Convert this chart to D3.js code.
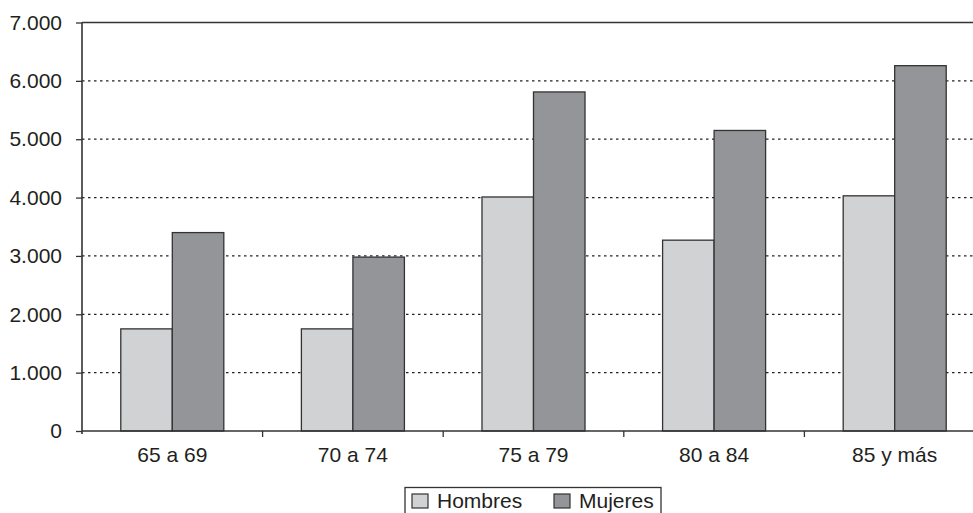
<!DOCTYPE html>
<html>
<head>
<meta charset="utf-8">
<script src="https://cdn.jsdelivr.net/npm/d3@7/dist/d3.min.js"></script>
<style>
  html, body { margin: 0; padding: 0; background: #fff; }
  svg { display: block; }
  text { font-family: "Liberation Sans", Arial, Helvetica, sans-serif; fill: #231f20; }
</style>
</head>
<body>
<svg id="chart" width="973" height="513"></svg>
<script>
// Age groups and population values (thousands of people, by sex)
const categories = ["65 a 69", "70 a 74", "75 a 79", "80 a 84", "85 y más"];
const series = ["Hombres", "Mujeres"];
const hombres = [1750, 1750, 4010, 3270, 4030];
const mujeres = [3400, 2980, 5810, 5150, 6260];
const yTicks = [0, 1000, 2000, 3000, 4000, 5000, 6000, 7000];
const yTickLabels = ["0", "1.000", "2.000", "3.000", "4.000", "5.000", "6.000", "7.000"];

const colors = { Hombres: "#d1d2d4", Mujeres: "#939598" };
const values = { Hombres: hombres, Mujeres: mujeres };

const svg = d3.select("#chart");
const W = 973;
const plotLeft = 82, plotTop = 22.5, plotBottom = 431;
const step = 180.6;
const fontSize = 21;

const x0 = d3.scaleBand()
  .domain(categories)
  .range([plotLeft, plotLeft + step * categories.length])
  .paddingInner(0).paddingOuter(0);

const x1 = d3.scaleBand()
  .domain(series)
  .range([0, x0.bandwidth()])
  .paddingInner(0).paddingOuter(0.753);

const y = d3.scaleLinear().domain([0, 7000]).range([plotBottom, plotTop]);

// dotted horizontal gridlines
svg.append("g")
  .selectAll("line")
  .data(yTicks.filter(v => v > 0 && v < 7000))
  .join("line")
  .attr("x1", plotLeft).attr("x2", W)
  .attr("y1", d => y(d)).attr("y2", d => y(d))
  .attr("stroke", "#222")
  .attr("stroke-width", 1.2)
  .attr("stroke-dasharray", "2.5,3.5");

// bars
const groups = svg.append("g")
  .selectAll("g")
  .data(categories)
  .join("g")
  .attr("transform", d => `translate(${x0(d)},0)`);

groups.selectAll("rect")
  .data((c, i) => series.map(s => ({ s, v: values[s][i] })))
  .join("rect")
  .attr("x", d => x1(d.s))
  .attr("y", d => y(d.v))
  .attr("width", x1.bandwidth())
  .attr("height", d => y(0) - y(d.v))
  .attr("fill", d => colors[d.s])
  .attr("stroke", "#333")
  .attr("stroke-width", 1.3);

// top frame line
svg.append("line")
  .attr("x1", plotLeft).attr("x2", W)
  .attr("y1", plotTop).attr("y2", plotTop)
  .attr("stroke", "#333").attr("stroke-width", 1.6);

// y axis
const yAxis = d3.axisLeft(y)
  .tickValues(yTicks)
  .tickFormat((d, i) => yTickLabels[i])
  .tickSize(6)
  .tickPadding(14);
const gy = svg.append("g")
  .attr("transform", `translate(${plotLeft},0)`)
  .call(yAxis);
gy.select(".domain").remove();
gy.selectAll(".tick line").attr("stroke", "#333").attr("stroke-width", 1.3);
gy.selectAll(".tick text")
  .attr("font-size", fontSize)
  .attr("font-family", "Liberation Sans, Arial, sans-serif")
  .attr("fill", "#231f20");
svg.append("line")
  .attr("x1", plotLeft).attr("x2", plotLeft)
  .attr("y1", plotTop).attr("y2", plotBottom + 3)
  .attr("stroke", "#333").attr("stroke-width", 1.6);

// x axis baseline with ticks between categories
svg.append("line")
  .attr("x1", plotLeft).attr("x2", W)
  .attr("y1", plotBottom).attr("y2", plotBottom)
  .attr("stroke", "#333").attr("stroke-width", 1.6);
svg.append("g")
  .selectAll("line")
  .data(categories.slice(1))
  .join("line")
  .attr("x1", d => x0(d)).attr("x2", d => x0(d))
  .attr("y1", plotBottom).attr("y2", plotBottom + 6)
  .attr("stroke", "#333").attr("stroke-width", 1.3);

svg.append("g")
  .selectAll("text")
  .data(categories)
  .join("text")
  .attr("x", d => x0(d) + x0.bandwidth() / 2)
  .attr("y", 461.5)
  .attr("text-anchor", "middle")
  .attr("font-size", fontSize)
  .text(d => d);

// legend
const legend = svg.append("g");
legend.append("rect")
  .attr("x", 405).attr("y", 487.5)
  .attr("width", 256).attr("height", 40)
  .attr("fill", "#fff")
  .attr("stroke", "#333").attr("stroke-width", 1.3);
const legendX = [412, 554];
series.forEach((s, i) => {
  legend.append("rect")
    .attr("x", legendX[i]).attr("y", 494)
    .attr("width", 16).attr("height", 14)
    .attr("fill", colors[s])
    .attr("stroke", "#333").attr("stroke-width", 1.2);
  legend.append("text")
    .attr("x", legendX[i] + 25).attr("y", 508)
    .attr("font-size", fontSize)
    .text(s);
});
</script>
</body>
</html>
